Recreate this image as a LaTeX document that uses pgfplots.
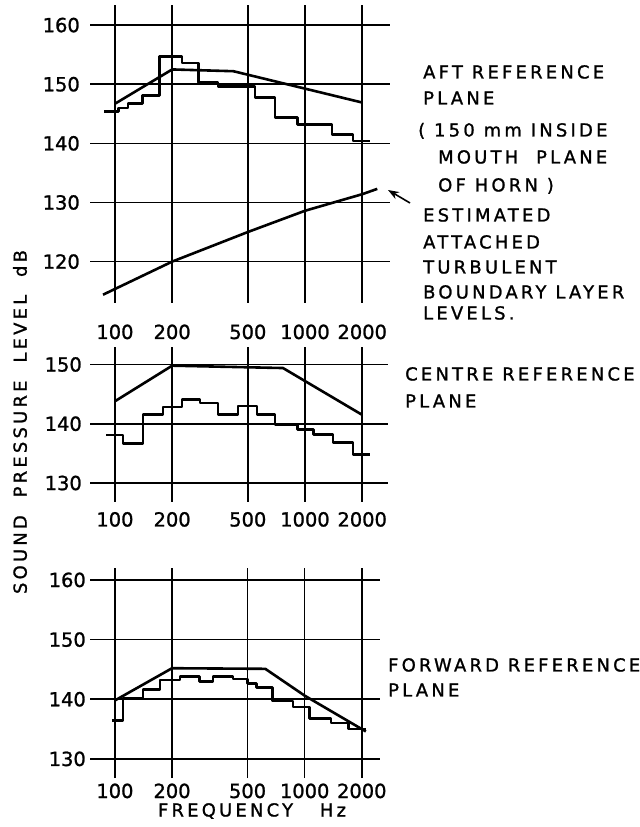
\documentclass[border=0pt]{standalone}
\usepackage{fontspec}
\setmainfont{DejaVu Sans}[FakeBold=1.2]
\newfontfamily\lab{DejaVu Sans}[LetterSpace=18, FakeBold=1.2]
\usepackage{pgfplots}
\pgfplotsset{compat=1.18}
\usetikzlibrary{arrows.meta}
\pgfplotsset{
  mypanel/.style={
    scale only axis, anchor=south west,
    axis line style={draw=none}, major tick length=0pt,
    grid=major, major grid style={black, line width=1.5bp},
    xtick={100,200,500,1000,2000}, xticklabels={100,200,500,1000,2000},
    /pgf/number format/assume math mode=true,
    tick label style={font=\fontsize{19.5}{21}\selectfont, inner sep=0pt},
    clip=false,
  },
  dat/.style={black, line width=2.6bp, no marks, sharp plot, line join=round},
  stair/.style={black, line width=2.6bp, no marks, const plot, line join=round},
}
\begin{document}
\begin{tikzpicture}[font=\fontsize{18}{20}\selectfont]
\useasboundingbox (0,0) rectangle (640bp,827bp);
% ---------- top panel: aft reference plane
\begin{semilogxaxis}[mypanel, at={(90bp,524bp)}, width=300bp, height=298bp,
  xmin=73.9, xmax=2800, ymin=113, ymax=163.4,
  ytick={120,130,140,150,160}, yticklabels={120,130,140,150,160},
  xticklabel style={anchor=base, yshift=-36bp},
  yticklabel style={anchor=east, xshift=-10bp}]
\addplot[dat] coordinates {(100,146.7) (200,152.5) (420,152.2) (2000,146.9)};
\addplot[stair] coordinates {(88,145.4) (104,146.0) (117,146.7) (140,148.1) (172,154.7)
  (225,153.6) (275,150.3) (348,149.6) (545,147.8) (695,144.4) (915,143.2)
  (1385,141.5) (1790,140.4) (2200,140.4)};
\addplot[dat] coordinates {(86.5,114.4) (200,120) (500,125) (1000,128.6) (2000,131.4) (2400,132.3)};
\end{semilogxaxis}
% ---------- middle panel: centre reference plane
\begin{semilogxaxis}[mypanel, at={(90bp,325bp)}, width=298bp, height=155bp,
  xmin=73.9, xmax=2734, ymin=126.8, ymax=152.95,
  ytick={130,140,150}, yticklabels={130,140,150},
  xticklabel style={anchor=base, yshift=-24.5bp},
  yticklabel style={anchor=east, xshift=-8bp}]
\addplot[dat] coordinates {(100,143.8) (200,149.8) (766,149.4) (2000,141.5)};
\addplot[stair] coordinates {(90,138.1) (110.2,136.7) (140.4,141.6) (179,142.8) (225,144.1)
  (280,143.5) (348,141.6) (443,143.0) (558,141.6) (694,139.9) (914,139.0)
  (1109,138.2) (1404,136.8) (1789,134.8) (2187,134.8)};
\end{semilogxaxis}
% ---------- bottom panel: forward reference plane
\begin{semilogxaxis}[mypanel, at={(90bp,49bp)}, width=290bp, height=210bp,
  xmin=73.9, xmax=2494, ymin=126.8, ymax=162.0,
  ytick={130,140,150,160}, yticklabels={130,140,150,160},
  xticklabel style={anchor=base, yshift=-20bp},
  yticklabel style={anchor=east, xshift=-4bp}]
\addplot[dat] coordinates {(100,139.8) (200,145.2) (620,145.1) (1000,140.6) (2100,134.6)};
\addplot[stair] coordinates {(96.4,136.4) (110.2,140.1) (140.4,141.6) (172.5,143.2) (220,143.8)
  (280,143.0) (328,143.8) (418,143.4) (501,142.6) (558,142.0) (679,139.7)
  (869,138.7) (1060,136.8) (1375,136.0) (1706,135.0) (2111,135.0)};
\end{semilogxaxis}
% ---------- texts
\node[rotate=90, font=\fontsize{18}{20}\selectfont\lab] at (20bp,405bp) {SOUND\ \ PRESSURE\ \ LEVEL\ \ dB};
\node[anchor=base, inner sep=0pt, font=\fontsize{18}{20}\selectfont\lab] at (252bp,10.5bp) {FREQUENCY\ \ \ Hz};
\begin{scope}[every node/.style={anchor=base west, inner sep=0pt, font=\fontsize{18}{20}\selectfont\lab}]
\node at (423bp,748.5bp) {AFT REFERENCE};
\node at (423bp,722.5bp) {PLANE};
\node at (418bp,690.5bp) {( 150 mm INSIDE};
\node at (438bp,663.5bp) {MOUTH\ \ PLANE};
\node at (438bp,635.5bp) {OF HORN )};
\node at (423bp,605.5bp) {ESTIMATED};
\node at (423bp,578.5bp) {ATTACHED};
\node at (423bp,553.5bp) {TURBULENT};
\node at (423bp,528.5bp) {BOUNDARY\ LAYER};
\node at (423bp,507.5bp) {LEVELS.};
\node at (405bp,446.5bp) {CENTRE REFERENCE};
\node at (405bp,419.5bp) {PLANE};
\node at (388bp,155.5bp) {FORWARD REFERENCE};
\node at (388bp,130.5bp) {PLANE};
\end{scope}
\draw[-{Stealth[length=11bp,width=8bp]}, line width=1.6bp] (410bp,624bp) -- (388bp,637bp);
\end{tikzpicture}
\end{document}
